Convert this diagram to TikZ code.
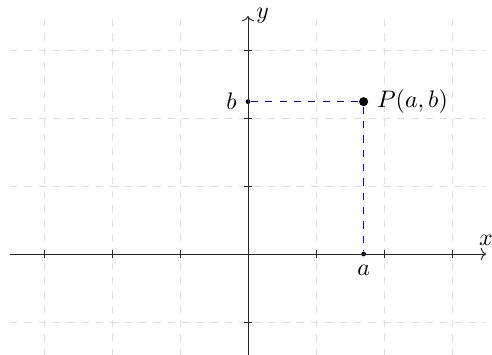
\documentclass[tikz,border=0pt]{standalone}
\usetikzlibrary{arrows.meta}
\begin{document}
\begin{tikzpicture}[
  gridline/.style={gray!25, dashed, very thin},
  axis/.style={black!85, thin, -{To[length=2.2pt,width=5pt]}},
  tick/.style={black!85, thin},
  guideline/.style={blue, dashed, line width=0.6pt},
  dotsmall/.style={circle, fill=black, inner sep=0pt, minimum size=2pt},
  dotbig/.style={circle, fill=black, inner sep=0pt, minimum size=3.8pt}
]
\useasboundingbox (-3.647,-1.485) rectangle (3.588,3.735);
\draw[gridline] (-3.5,-1.5) grid (3.5,3.5);
\coordinate (xs) at (-3.5,0);
\coordinate (xe) at (3.5,0);
\coordinate (ys) at (0,-1.6);
\coordinate (ye) at (0,3.5);
\node[dotbig] (P) at (1.7,2.24) {};
\node[dotsmall] (B) at (0,2.24) {};
\node[dotsmall] (A) at (1.7,0) {};
\draw[guideline] (B) -- (P);
\draw[guideline] (P) -- (A);
\draw[axis] (xs) -- (xe) node[above, black] (xl) {$x$};
\draw[axis] (ys) -- (ye) node[right, black] (yl) {$y$};
\foreach \i in {-3,-2,-1,1,2,3} \draw[tick] (\i,0.065) -- (\i,-0.065);
\foreach \j in {-1,1,2,3} \draw[tick] (0.065,\j) -- (-0.065,\j);
\node[right] (Pl) at (P.east) {$P(a,b)$};
\node[left] (Bl) at (B.west) {$b$};
\node[below] (Al) at (A.south) {$a$};
\end{tikzpicture}
\end{document}
